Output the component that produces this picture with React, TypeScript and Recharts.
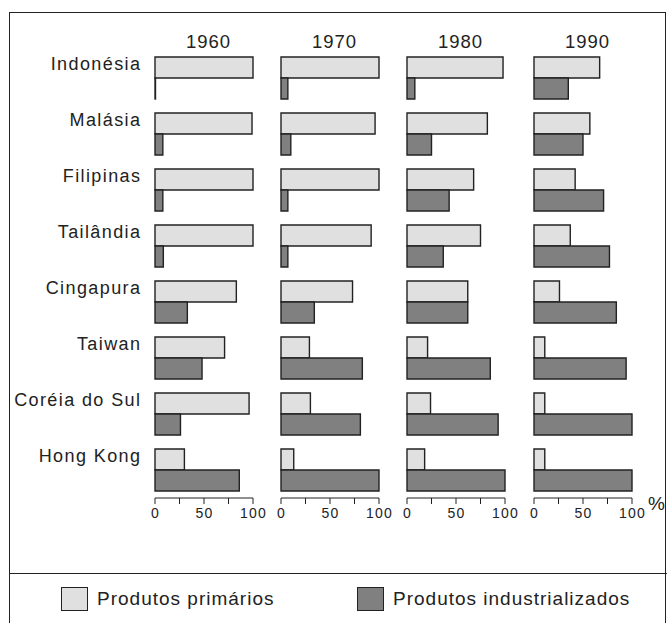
import React from 'react'
import { BarChart, Bar, XAxis, YAxis } from 'recharts'

const categories = ['Indonésia', 'Malásia', 'Filipinas', 'Tailândia', 'Cingapura', 'Taiwan', 'Coréia do Sul', 'Hong Kong']
const years = ['1960', '1970', '1980', '1990']
const seriesNames = ['Produtos primários', 'Produtos industrializados']

const primarios1960 = [100, 99, 100, 100, 83, 71, 96, 30]
const industriais1960 = [0.5, 8, 8, 8.5, 33, 48, 26, 86]
const primarios1970 = [100, 96, 100, 92, 73, 29, 30, 13]
const industriais1970 = [7, 10, 7, 7, 34, 83, 81, 100]
const primarios1980 = [98, 82, 68, 75, 62, 21, 24, 18]
const industriais1980 = [8, 25, 43, 37, 62, 85, 93, 100]
const primarios1990 = [67, 57, 42, 37, 26, 11, 11, 11]
const industriais1990 = [35, 50, 71, 77, 84, 94, 100, 100]

const xTicks = [0, 25, 50, 75, 100]
const xTickLabels = [0, 50, 100]

const primaryByYear = [primarios1960, primarios1970, primarios1980, primarios1990]
const industrialByYear = [industriais1960, industriais1970, industriais1980, industriais1990]

const FONT = "'Liberation Sans', Arial, sans-serif"
const INK = '#222'
const LIGHT = '#e0e0e0'
const DARK = '#808080'

// left edge of each panel's plot area (value 0)
const panelStarts = [155, 281, 407, 534]
const PLOT_W = 98
const PAD = 20

const CategoryTick = ({ x, y, payload }: any) => (
  <text
    x={x}
    y={y - 14}
    dx={1.4}
    dy="0.355em"
    textAnchor="end"
    fill={INK}
    style={{ fontFamily: FONT, fontSize: 18, letterSpacing: 1.4 }}
  >
    {payload.value}
  </text>
)

const ValueTick = ({ x, y, payload }: any) => {
  if (!xTickLabels.includes(payload.value)) return null
  return (
    <text
      x={x}
      y={y}
      dx={0.6}
      dy="0.75em"
      textAnchor="middle"
      fill={INK}
      style={{ fontFamily: FONT, fontSize: 14, letterSpacing: 1.2 }}
    >
      {payload.value}
    </text>
  )
}

function Panel({ index }: { index: number }) {
  const data = categories.map((name, i) => ({
    name,
    primarios: primaryByYear[index][i],
    industriais: industrialByYear[index][i],
  }))
  const first = index === 0
  const left = first ? 0 : panelStarts[index] - PAD
  const width = first ? panelStarts[0] + PLOT_W + PAD : PLOT_W + 2 * PAD
  return (
    <div style={{ position: 'absolute', left, top: 0 }}>
      <BarChart
        width={width}
        height={535}
        data={data}
        layout="vertical"
        barGap={0}
        margin={{ top: 50, right: PAD, bottom: 0, left: first ? 0 : PAD }}
      >
        <XAxis
          type="number"
          domain={[0, 100]}
          ticks={xTicks}
          interval={0}
          height={37}
          tickSize={6}
          tickMargin={3}
          stroke={INK}
          tick={<ValueTick />}
        />
        <YAxis
          type="category"
          dataKey="name"
          width={first ? panelStarts[0] : 0}
          hide={!first}
          axisLine={false}
          tickLine={false}
          tickMargin={9}
          interval={0}
          tick={<CategoryTick />}
        />
        <Bar dataKey="primarios" fill={LIGHT} stroke={INK} strokeWidth={1.4} barSize={21} isAnimationActive={false} />
        <Bar dataKey="industriais" fill={DARK} stroke={INK} strokeWidth={1.4} barSize={21} isAnimationActive={false} />
      </BarChart>
    </div>
  )
}

export default function App() {
  return (
    <div
      style={{
        position: 'absolute',
        left: 0,
        top: 0,
        width: 667,
        height: 623,
        overflow: 'hidden',
        background: '#fff',
        fontFamily: FONT,
        color: INK,
      }}
    >
      <div
        style={{
          position: 'absolute',
          left: 9,
          top: 12,
          width: 657,
          height: 700,
          border: `1.5px solid ${INK}`,
          boxSizing: 'border-box',
        }}
      />
      <div style={{ position: 'absolute', left: 9, top: 573, width: 658, borderTop: `1.5px solid ${INK}` }} />

      {years.map((year, i) => (
        <div
          key={year}
          style={{
            position: 'absolute',
            left: panelStarts[i] + PLOT_W / 2 - 50 + 4.5,
            top: 31,
            width: 100,
            textAlign: 'center',
            fontSize: 18.5,
            lineHeight: '22px',
            letterSpacing: 1,
          }}
        >
          {year}
        </div>
      ))}

      {years.map((year, i) => (
        <Panel key={year} index={i} />
      ))}

      <div style={{ position: 'absolute', left: 648, top: 493, fontSize: 19, lineHeight: '22px' }}>%</div>

      {seriesNames.map((name, i) => (
        <div key={name} style={{ position: 'absolute', left: i === 0 ? 61 : 357, top: 587, display: 'flex', alignItems: 'center' }}>
          <div
            style={{
              width: 27,
              height: 24,
              boxSizing: 'border-box',
              border: `1.5px solid ${INK}`,
              background: i === 0 ? LIGHT : DARK,
            }}
          />
          <span style={{ marginLeft: 9, fontSize: 19, letterSpacing: 1, lineHeight: '24px' }}>{name}</span>
        </div>
      ))}
    </div>
  )
}
